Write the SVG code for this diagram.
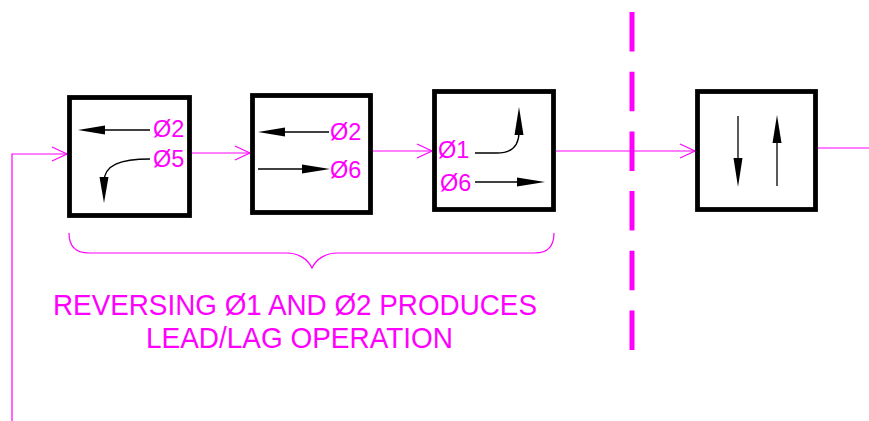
<svg xmlns="http://www.w3.org/2000/svg" width="869" height="421" viewBox="0 0 869 421">
<defs>
<style>
.box{fill:#fff;stroke:#000;stroke-width:4.8}
.wire{fill:none;stroke:#ff00ff;stroke-width:1.2}
.chev{fill:none;stroke:#ff00ff;stroke-width:1.2}
.arr{fill:none;stroke:#000;stroke-width:1.3}
.head{fill:#000;stroke:none}
.lbl{font-family:"Liberation Sans",Arial,sans-serif;font-size:23.5px;fill:#ff00ff}
.note{font-family:"Liberation Sans",Arial,sans-serif;font-size:30px;fill:#ff00ff}
</style>
</defs>
<rect width="869" height="421" fill="#fff"/>

<g id="connectors">
<polyline class="wire" points="12,421 12,154 67,154"/>
<polyline class="chev" points="52,147 67,154 52,161"/>
<line class="wire" x1="192" y1="153" x2="250" y2="153"/>
<polyline class="chev" points="235,146 250,153 235,160"/>
<line class="wire" x1="373" y1="151" x2="432" y2="151"/>
<polyline class="chev" points="417,144 432,151 417,158"/>
<line class="wire" x1="556" y1="151" x2="695" y2="151"/>
<polyline class="chev" points="680,144 695,151 680,158"/>
<line class="wire" x1="818" y1="148" x2="869" y2="148"/>
</g>

<g id="divider">
<line x1="632" y1="12" x2="632" y2="350" stroke="#ff00ff" stroke-width="5" stroke-dasharray="39.5 20.2"/>
</g>

<g id="node1">
<rect class="box" x="69.5" y="97.5" width="120" height="118"/>
<line class="arr" x1="150" y1="130" x2="100" y2="130"/>
<polygon class="head" points="78,130 105,125.5 105,134.5"/>
<path class="arr" d="M150,159 C120,159 104,165 104,182"/>
<polygon class="head" points="104,203 99.5,177 108.5,177"/>
<text class="lbl" x="153" y="137">Ø2</text>
<text class="lbl" x="153" y="167">Ø5</text>
</g>

<g id="node2">
<rect class="box" x="252.5" y="95.5" width="118" height="117"/>
<line class="arr" x1="329" y1="132" x2="280" y2="132"/>
<polygon class="head" points="258,132 285,127.5 285,136.5"/>
<line class="arr" x1="258" y1="169" x2="307" y2="169"/>
<polygon class="head" points="330,169 302,164.5 302,173.5"/>
<text class="lbl" x="330" y="140">Ø2</text>
<text class="lbl" x="330" y="178">Ø6</text>
</g>

<g id="node3">
<rect class="box" x="434.5" y="91.5" width="119" height="118"/>
<path class="arr" d="M475,153 H497 C510,153 519,147 519,132"/>
<polygon class="head" points="519,107 514.5,135 523.5,135"/>
<line class="arr" x1="475" y1="182" x2="522" y2="182"/>
<polygon class="head" points="545,182 517,177.5 517,186.5"/>
<text class="lbl" x="438" y="158">Ø1</text>
<text class="lbl" x="440" y="191">Ø6</text>
</g>

<g id="node4">
<rect class="box" x="697.5" y="91.5" width="118" height="118"/>
<line class="arr" x1="738" y1="116" x2="738" y2="162"/>
<polygon class="head" points="738,187 733.5,158 742.5,158"/>
<line class="arr" x1="777" y1="186" x2="777" y2="140"/>
<polygon class="head" points="777,115 772.5,143 781.5,143"/>
</g>

<g id="brace">
<path class="wire" d="M69,233 C69,246 76,253 89,253 H287 C298,253 308,259 312,268 C316,259 326,253 337,253 H535 C548,253 554,246 554,233"/>
</g>

<g id="note">
<text class="note" x="53" y="315" textLength="484" lengthAdjust="spacingAndGlyphs">REVERSING Ø1 AND Ø2 PRODUCES</text>
<text class="note" x="146" y="348" textLength="307" lengthAdjust="spacingAndGlyphs">LEAD/LAG OPERATION</text>
</g>
</svg>
